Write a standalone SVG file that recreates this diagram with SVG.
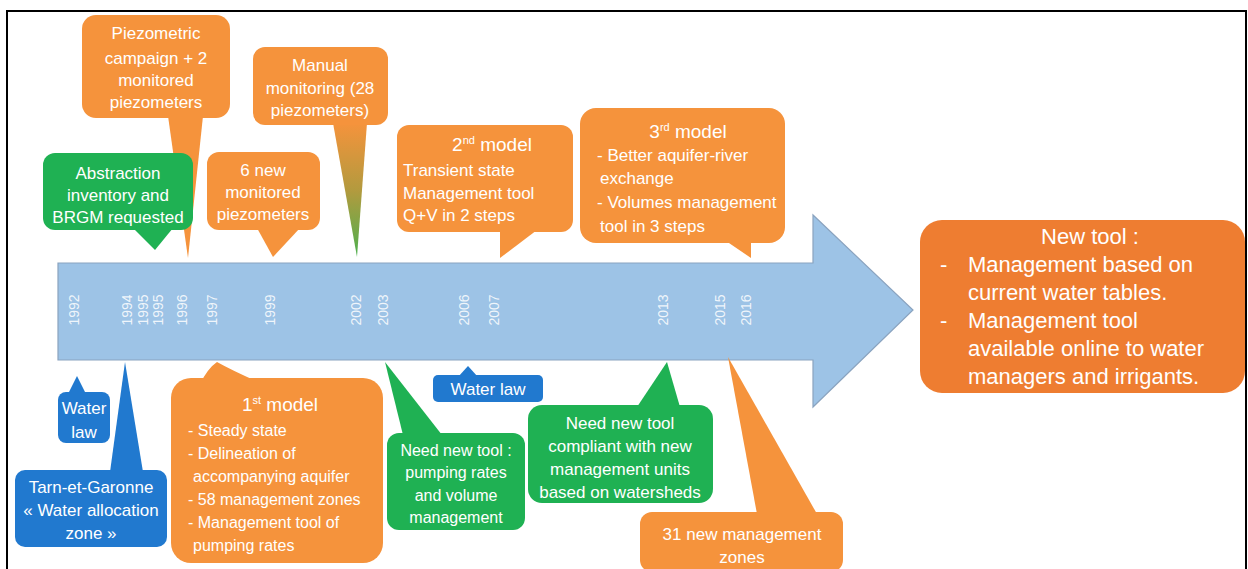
<svg xmlns="http://www.w3.org/2000/svg" width="1248" height="569" viewBox="0 0 1248 569">
<defs>
<linearGradient id="gMan" x1="0" y1="0" x2="0" y2="1">
<stop offset="0" stop-color="#F5933C"/>
<stop offset="0.5" stop-color="#B39A3E"/>
<stop offset="1" stop-color="#4DB04E"/>
</linearGradient>
</defs>
<style>
.or{fill:#F5933C}
.nt{fill:#EE7D31}
.gr{fill:#1FB153}
.bl{fill:#2179CF}
text{font-family:"Liberation Sans",Arial,sans-serif;fill:#FFFFFF}
.c{text-anchor:middle;font-size:17px}
.c16{text-anchor:middle;font-size:16px}
.l{text-anchor:start;font-size:17px}
.l16{text-anchor:start;font-size:16px}
.h{text-anchor:middle;font-size:19px}
.big{font-size:22px}
.yr{text-anchor:middle;font-size:14px;fill:#FFFFFF;fill-opacity:0.85}
</style>
<rect width="1248" height="569" fill="#FFFFFF"/>
<rect x="7" y="11" width="1239" height="570" fill="none" stroke="#000" stroke-width="2"/>

<g id="timeline">
<polygon points="58,263 813,263 813,215 913,310 813,407 813,360 58,360" fill="#9DC3E6" stroke="#8AA3BF" stroke-width="1.2"/>
<g>
<text class="yr" transform="translate(74,310) rotate(-90)" dy="5">1992</text>
<text class="yr" transform="translate(127,310) rotate(-90)" dy="5">1994</text>
<text class="yr" transform="translate(143,310) rotate(-90)" dy="5">1995</text>
<text class="yr" transform="translate(158,310) rotate(-90)" dy="5">1995</text>
<text class="yr" transform="translate(182,310) rotate(-90)" dy="5">1996</text>
<text class="yr" transform="translate(212,310) rotate(-90)" dy="5">1997</text>
<text class="yr" transform="translate(270,310) rotate(-90)" dy="5">1999</text>
<text class="yr" transform="translate(356,310) rotate(-90)" dy="5">2002</text>
<text class="yr" transform="translate(383,310) rotate(-90)" dy="5">2003</text>
<text class="yr" transform="translate(464,310) rotate(-90)" dy="5">2006</text>
<text class="yr" transform="translate(494,310) rotate(-90)" dy="5">2007</text>
<text class="yr" transform="translate(663,310) rotate(-90)" dy="5">2013</text>
<text class="yr" transform="translate(720,310) rotate(-90)" dy="5">2015</text>
<text class="yr" transform="translate(746,310) rotate(-90)" dy="5">2016</text>
</g>
</g>

<g id="connectors"></g>

<g id="piezometric-campaign">
<polygon class="or" points="168,116 203,116 188,258"/>
<rect class="or" x="82" y="15" width="148" height="103" rx="14"/>
<text class="c" x="156" y="39">Piezometric</text>
<text class="c" x="156" y="64">campaign + 2</text>
<text class="c" x="156" y="86">monitored</text>
<text class="c" x="156" y="108">piezometers</text>
</g>

<g id="abstraction-inventory">
<polygon class="gr" points="133,228 173,228 155,250"/>
<rect class="gr" x="43" y="153" width="150" height="77" rx="12"/>
<text class="c" x="118" y="179">Abstraction</text>
<text class="c" x="118" y="201">inventory and</text>
<text class="c" x="118" y="223">BRGM requested</text>
</g>

<g id="new-piezometers">
<polygon class="or" points="257,228 300,228 273,257"/>
<rect class="or" x="207" y="152" width="113" height="78" rx="12"/>
<text class="c" x="263" y="176">6 new</text>
<text class="c" x="263" y="198">monitored</text>
<text class="c" x="263" y="220">piezometers</text>
</g>

<g id="manual-monitoring">
<polygon fill="url(#gMan)" points="333,123 367,123 357,257"/>
<rect class="or" x="253" y="47" width="135" height="78" rx="12"/>
<text class="c" x="320" y="71">Manual</text>
<text class="c" x="320" y="94">monitoring (28</text>
<text class="c" x="320" y="116">piezometers)</text>
</g>

<g id="second-model">
<polygon class="or" points="500,230 537,230 500,258"/>
<rect class="or" x="397" y="125" width="176" height="107" rx="12"/>
<text class="h" x="492" y="151">2<tspan font-size="11" dy="-7">nd</tspan><tspan dy="7"> model</tspan></text>
<text class="l" x="403" y="176">Transient state</text>
<text class="l" x="403" y="199">Management tool</text>
<text class="l" x="403" y="221">Q+V in 2 steps</text>
</g>

<g id="third-model">
<polygon class="or" points="726,241 751,241 751,258"/>
<rect class="or" x="580" y="108" width="205" height="135" rx="16"/>
<text class="h" x="688" y="138">3<tspan font-size="11" dy="-7">rd</tspan><tspan dy="7"> model</tspan></text>
<text class="l" x="597" y="161">- Better aquifer-river</text>
<text class="l" x="600" y="184">exchange</text>
<text class="l" x="597" y="208">- Volumes management</text>
<text class="l" x="600" y="232">tool in 3 steps</text>
</g>

<g id="new-tool">
<rect class="nt" x="920" y="220" width="325" height="173" rx="22"/>
<text class="big" x="1090" y="244" text-anchor="middle">New tool :</text>
<text class="big" x="940" y="272">-</text>
<text class="big" x="968" y="272">Management based on</text>
<text class="big" x="968" y="300">current water tables.</text>
<text class="big" x="940" y="328">-</text>
<text class="big" x="968" y="328">Management tool</text>
<text class="big" x="968" y="356">available online to water</text>
<text class="big" x="968" y="384">managers and irrigants.</text>
</g>

<g id="water-law-1992">
<polygon class="bl" points="68,394 86,394 77,376"/>
<rect class="bl" x="58" y="392" width="52" height="51" rx="8"/>
<text class="c" x="84" y="414">Water</text>
<text class="c" x="84" y="438">law</text>
</g>

<g id="tarn-et-garonne">
<polygon class="bl" points="110,472 143,472 125,362"/>
<rect class="bl" x="15" y="470" width="152" height="77" rx="10"/>
<text class="c" x="91" y="493">Tarn-et-Garonne</text>
<text class="c" x="91" y="516">« Water allocation</text>
<text class="c" x="91" y="539">zone »</text>
</g>

<g id="first-model">
<path class="or" d="M200,384 Q208,368 217,362 Q235,372 263,384 Z"/>
<rect class="or" x="171" y="378" width="212" height="185" rx="20"/>
<text class="h" x="280" y="411">1<tspan font-size="11" dy="-7">st</tspan><tspan dy="7"> model</tspan></text>
<text class="l16" x="188" y="436">- Steady state</text>
<text class="l16" x="188" y="459">- Delineation of</text>
<text class="l16" x="193" y="482">accompanying aquifer</text>
<text class="l16" x="188" y="505">- 58 management zones</text>
<text class="l16" x="188" y="528">- Management tool of</text>
<text class="l16" x="193" y="551">pumping rates</text>
</g>

<g id="need-new-tool-pumping">
<polygon class="gr" points="403,435 442,435 385,362"/>
<rect class="gr" x="387" y="433" width="138" height="97" rx="12"/>
<text class="c16" x="456" y="456">Need new tool :</text>
<text class="c16" x="456" y="478">pumping rates</text>
<text class="c16" x="456" y="501">and volume</text>
<text class="c16" x="456" y="523">management</text>
</g>

<g id="water-law-2006">
<polygon class="bl" points="458,377 478,377 468,366"/>
<rect class="bl" x="433" y="375" width="110" height="27" rx="5"/>
<text class="c" x="488" y="395">Water law</text>
</g>

<g id="need-new-tool-compliant">
<polygon class="gr" points="637,407 680,407 667,362"/>
<rect class="gr" x="528" y="405" width="185" height="98" rx="14"/>
<text class="c" x="620" y="429">Need new tool</text>
<text class="c" x="620" y="452">compliant with new</text>
<text class="c" x="620" y="475">management units</text>
<text class="c" x="620" y="498">based on watersheds</text>
</g>

<g id="new-management-zones">
<polygon class="or" points="757,514 817,514 728,357"/>
<rect class="or" x="640" y="512" width="203" height="60" rx="12"/>
<text class="c" x="742" y="540">31 new management</text>
<text class="c" x="742" y="563">zones</text>
</g>
</svg>
